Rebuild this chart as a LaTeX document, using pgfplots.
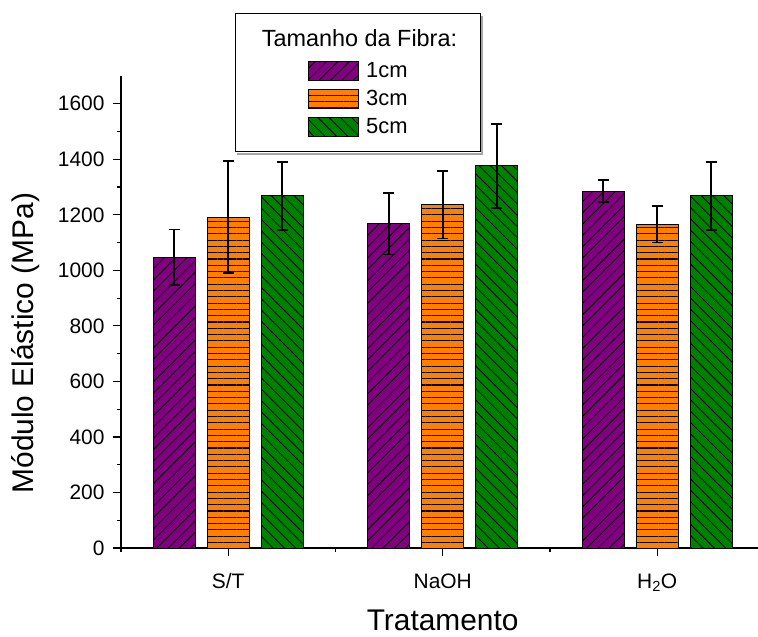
\documentclass[border=0pt]{standalone}
\usepackage{fontspec}
\setmainfont{Liberation Sans}
\usepackage{pgfplots}
\pgfplotsset{compat=1.18}
\usetikzlibrary{patterns.meta}
\definecolor{cpurple}{RGB}{128,0,128}
\definecolor{corange}{RGB}{255,128,0}
\definecolor{cgreen}{RGB}{0,128,0}
\pgfplotsset{
  mylegend/.style={legend image code/.code={\draw[##1, line width=1bp] (0bp,-9.5bp) rectangle (50bp,9.5bp);}},
  myerr/.style={error bars/.cd, y dir=both, y explicit,
    error bar style={black, solid, line width=1.8bp},
    error mark options={rotate=90, mark size=5.5bp, line width=1.8bp, black, solid}},
}
\begin{document}
\begin{tikzpicture}
\useasboundingbox (-121bp,-89bp) rectangle (637bp,548bp);
% legend frame and title
\draw[gray!70, line width=1.5bp] (361bp,532bp) -- (361bp,394bp) -- (116bp,394bp);
\draw[black, line width=1bp, fill=white] (114bp,534bp) rectangle (359bp,396bp);
\node[font=\fontsize{23.5}{27}\selectfont, anchor=base, inner sep=0pt] at (238.5bp,501bp) {Tamanho da Fibra:};
\begin{axis}[
  at={(0,0)}, anchor=south west,
  scale only axis, width=637bp, height=472bp,
  xmin=0.5, xmax=3.47, ymin=0, ymax=1700,
  axis x line=bottom, axis y line=left,
  axis line style={-, line width=1.2bp},
  tick align=outside,
  xtick={1,2,3}, xticklabels={S/T, NaOH, H\textsubscript{2}O},
  minor xtick={0.5,1.5,2.5},
  ytick={0,200,...,1600}, minor ytick={100,300,...,1500},
  major tick length=8bp, minor tick length=4bp,
  every tick/.style={black, line width=1.2bp},
  tick label style={font=\fontsize{21}{25}\selectfont},
  xticklabel style={yshift=-14bp},
  yticklabel style={xshift=-5bp},
  /pgf/number format/assume math mode=true,
  /pgf/number format/1000 sep={},
  xlabel={Tratamento}, ylabel={Módulo Elástico (MPa)},
  label style={font=\fontsize{30}{34}\selectfont},
  xlabel style={at={(axis description cs:0.505,-0.1758)}, anchor=base},
  ylabel style={at={(axis description cs:-0.138,0.434)}, anchor=base},
  clip=false,
  legend style={draw=none, fill=none, at={(axis description cs:0.2936,1.0324)}, anchor=north west,
    inner sep=0pt, row sep=8bp, font=\fontsize{22}{26}\selectfont,
    nodes={inner xsep=7bp, inner ysep=0bp}, cells={anchor=west}},
]
\addplot[ybar, bar width=0.196, bar shift=0, draw=black, line width=1bp, fill=cpurple,
  postaction={pattern color=black, pattern={Lines[angle=45, distance=8bp, line width=0.8bp]}}, mylegend, myerr]
  coordinates {(0.748,1047) +- (0,100) (1.748,1168) +- (0,111) (2.748,1285) +- (0,39)};
\addlegendentry{1cm}
\addplot[ybar, bar width=0.196, bar shift=0, draw=black, line width=1bp, fill=corange,
  postaction={pattern color=black, pattern={Lines[angle=0, distance=6.3bp, line width=1.1bp]}}, mylegend, myerr]
  coordinates {(1,1192) +- (0,202) (2,1237) +- (0,122) (3,1166) +- (0,66)};
\addlegendentry{3cm}
\addplot[ybar, bar width=0.196, bar shift=0, draw=black, line width=1bp, fill=cgreen,
  postaction={pattern color=black, pattern={Lines[angle=-45, distance=8bp, line width=0.8bp]}}, mylegend, myerr]
  coordinates {(1.252,1268) +- (0,122) (2.252,1377) +- (0,151) (3.252,1268) +- (0,122)};
\addlegendentry{5cm}
\end{axis}
\end{tikzpicture}
\end{document}
